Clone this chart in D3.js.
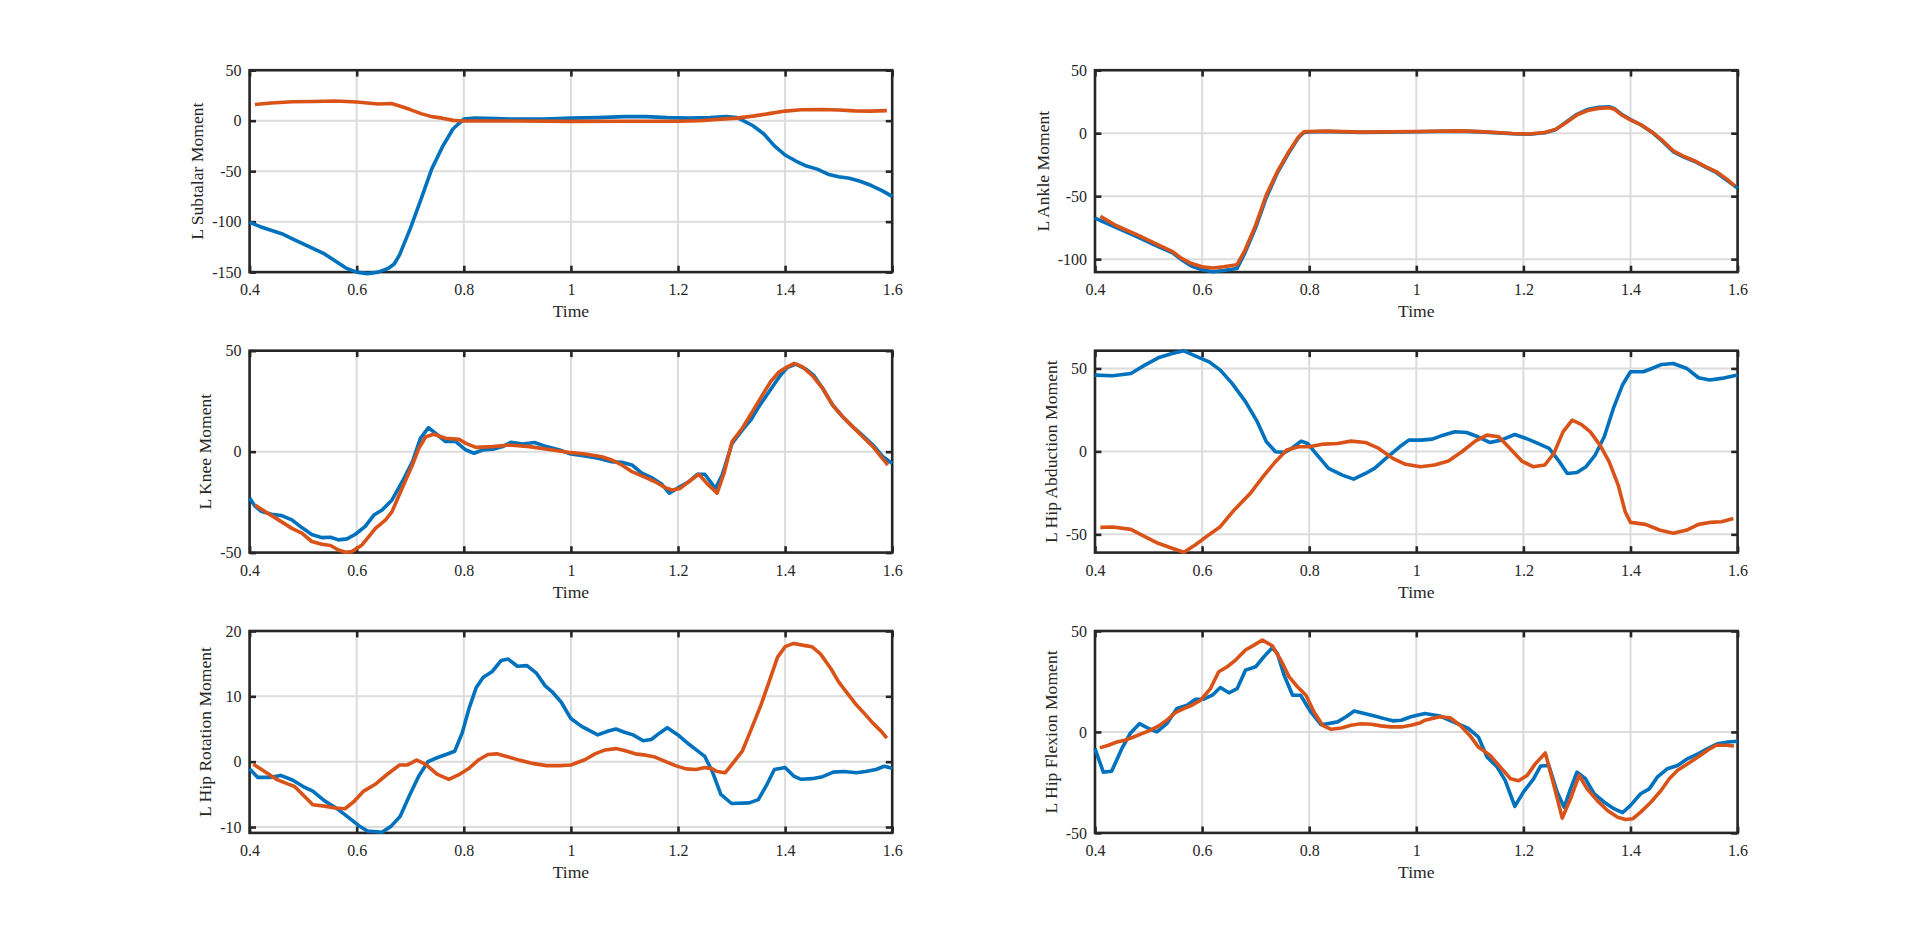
<!DOCTYPE html>
<html>
<head>
<meta charset="utf-8">
<script src="https://cdn.jsdelivr.net/npm/d3@7"></script>
<style>
  html, body { margin: 0; padding: 0; background: #fff; }
  svg { display: block; }
</style>
</head>
<body>
<svg id="chart" width="1920" height="936"></svg>
<script>
// ---------------- DATA ----------------
const xTicks = [0.4, 0.6, 0.8, 1, 1.2, 1.4, 1.6];
const xLabel = "Time";

const subtalarLabel = "L Subtalar Moment";
const subtalarDomain = [-150, 50];
const subtalarTicks = [-150, -100, -50, 0, 50];
const subtalarBlue = [[0.40,-100.7],[0.42,-105],[0.44,-108.5],[0.46,-112],[0.48,-117],[0.50,-122],[0.52,-127],[0.54,-132],[0.56,-139],[0.58,-146],[0.60,-150],[0.62,-151.5],[0.64,-150],[0.66,-146],[0.67,-142],[0.68,-133],[0.70,-107],[0.72,-78],[0.74,-48],[0.76,-26],[0.78,-8],[0.80,1.5],[0.82,2.5],[0.86,2],[0.90,1.5],[0.95,1.5],[1.00,2.5],[1.05,3],[1.10,4],[1.14,4],[1.18,3],[1.22,2.5],[1.26,3],[1.29,4],[1.31,3],[1.32,0.5],[1.34,-5],[1.36,-13],[1.38,-25],[1.40,-34],[1.42,-40],[1.44,-45],[1.46,-48],[1.48,-53],[1.50,-55.5],[1.52,-57],[1.54,-60],[1.56,-64],[1.58,-69],[1.60,-75]];
const subtalarOrange = [[0.41,16],[0.44,17.5],[0.48,18.7],[0.52,19],[0.56,19.5],[0.60,18.5],[0.62,17.5],[0.64,16.5],[0.665,17],[0.68,14.5],[0.70,11],[0.72,7],[0.74,4],[0.76,2.5],[0.78,0.3],[0.80,-0.3],[0.90,-0.3],[1.0,-0.7],[1.1,-0.5],[1.2,-0.5],[1.24,0],[1.28,1.5],[1.31,2.5],[1.34,4.5],[1.37,7],[1.40,9.5],[1.43,10.8],[1.47,11],[1.50,10.5],[1.53,9.7],[1.56,9.5],[1.59,10]];

const ankleLabel = "L Ankle Moment";
const ankleDomain = [-110.3, 50];
const ankleTicks = [-100, -50, 0, 50];
const ankleBlue = [[0.40,-67.5],[0.44,-75],[0.48,-82.5],[0.52,-90.5],[0.545,-95],[0.56,-100],[0.58,-105.5],[0.60,-108.5],[0.62,-110],[0.64,-109],[0.665,-107.5],[0.68,-95],[0.70,-75],[0.72,-51],[0.74,-32],[0.76,-17],[0.78,-3.5],[0.79,0.5],[0.80,1],[0.83,1.3],[0.9,0.6],[1.0,1.1],[1.08,1.6],[1.12,1],[1.18,-0.5],[1.21,-0.8],[1.24,0.3],[1.26,2.8],[1.28,8.8],[1.30,15],[1.32,18.8],[1.34,20.5],[1.36,21],[1.37,19.5],[1.385,14.5],[1.40,10.8],[1.42,6.5],[1.44,0.8],[1.46,-6.5],[1.48,-14.8],[1.50,-19],[1.52,-22.5],[1.54,-27],[1.56,-31.2],[1.58,-37.5],[1.60,-43.6]];
const ankleOrange = [[0.41,-66],[0.44,-73.5],[0.48,-81],[0.52,-89],[0.545,-94],[0.56,-99],[0.58,-103.5],[0.60,-106],[0.62,-107],[0.64,-106],[0.665,-104.5],[0.68,-93],[0.70,-73],[0.72,-49],[0.74,-31],[0.76,-16],[0.78,-3],[0.79,1],[0.80,1.3],[0.83,1.6],[0.9,0.8],[1.0,1.3],[1.08,1.8],[1.12,1.2],[1.18,-0.3],[1.21,-0.6],[1.24,0.5],[1.26,3],[1.28,8.5],[1.30,14.5],[1.32,18],[1.34,19.7],[1.36,20.2],[1.37,19],[1.385,14],[1.40,10.5],[1.42,6.5],[1.44,1],[1.46,-6],[1.48,-14],[1.50,-18.5],[1.52,-22],[1.54,-26.5],[1.56,-30.5],[1.58,-36.5],[1.595,-42]];

const kneeLabel = "L Knee Moment";
const kneeDomain = [-50, 50];
const kneeTicks = [-50, 0, 50];
const kneeBlue = [[0.40,-23],[0.41,-27],[0.4225,-29.7],[0.441,-31],[0.46,-31.7],[0.479,-33.8],[0.4975,-37.6],[0.516,-41],[0.535,-42.6],[0.551,-42.4],[0.566,-43.7],[0.582,-43.2],[0.5975,-40.9],[0.616,-37],[0.632,-31.4],[0.6475,-28.9],[0.666,-23.9],[0.685,-14.9],[0.704,-5],[0.719,6.6],[0.734,11.9],[0.7475,9],[0.766,5],[0.785,5],[0.804,0.8],[0.819,-0.8],[0.835,0.8],[0.854,1.2],[0.8725,2.5],[0.888,4.6],[0.91,3.8],[0.932,4.5],[0.954,2.5],[0.979,0.8],[1.0,-1.2],[1.026,-2.1],[1.051,-3.3],[1.076,-5],[1.095,-5.3],[1.114,-6.6],[1.1325,-10.7],[1.151,-12.9],[1.17,-16.2],[1.184,-20.6],[1.201,-17.8],[1.22,-14.9],[1.236,-11.2],[1.25,-11.2],[1.27,-18.2],[1.2825,-11.6],[1.301,4.1],[1.32,10.7],[1.336,15.7],[1.351,22.3],[1.37,29.7],[1.389,37],[1.404,41.6],[1.42,43.4],[1.439,40.9],[1.454,37.6],[1.47,31.4],[1.489,23],[1.5075,17.3],[1.526,12.4],[1.545,7.9],[1.564,3.3],[1.5825,-2.5],[1.60,-5.8]];
const kneeOrange = [[0.41,-26.4],[0.429,-29.7],[0.454,-33.8],[0.479,-38],[0.4975,-40.4],[0.516,-44.5],[0.535,-45.9],[0.551,-46.5],[0.566,-48.7],[0.579,-49.8],[0.591,-49.5],[0.61,-46.2],[0.635,-38],[0.654,-33.8],[0.666,-29.7],[0.685,-18],[0.704,-6.6],[0.716,1.6],[0.729,7.4],[0.744,8.6],[0.766,6.6],[0.791,6.1],[0.804,4.1],[0.8225,2.1],[0.854,2.5],[0.885,3.3],[0.9225,2.5],[0.966,0.8],[1.0,-0.5],[1.026,-1.2],[1.0575,-2.5],[1.076,-4.1],[1.095,-6.6],[1.114,-9.9],[1.139,-12.7],[1.1575,-14.9],[1.176,-17.8],[1.189,-19],[1.204,-18.2],[1.22,-14.9],[1.239,-11.2],[1.254,-15.7],[1.273,-20.6],[1.286,-10.7],[1.301,5],[1.32,11.6],[1.339,19.8],[1.3575,28],[1.373,34.7],[1.389,39.6],[1.404,42],[1.417,43.7],[1.4325,42],[1.451,37.6],[1.47,31.4],[1.489,23],[1.5075,17.3],[1.526,12.4],[1.545,7.4],[1.564,2.5],[1.579,-2.5],[1.592,-6.6]];

const abdLabel = "L Hip Abduction Moment";
const abdDomain = [-61, 60.7];
const abdTicks = [-50, 0, 50];
const abdBlue = [[0.40,46],[0.433,45.6],[0.467,47],[0.493,52],[0.518,56.4],[0.544,59],[0.566,60.6],[0.587,57.6],[0.613,54],[0.634,49],[0.656,41],[0.681,30],[0.703,17.9],[0.72,5.8],[0.737,-0.2],[0.754,-0.6],[0.767,1.8],[0.785,6.2],[0.797,4.8],[0.815,-2.2],[0.836,-10.2],[0.862,-14.3],[0.883,-16.7],[0.905,-13.3],[0.922,-10.2],[0.947,-3.2],[0.969,2.8],[0.986,6.8],[1.008,6.8],[1.03,7.4],[1.05,9.8],[1.072,11.8],[1.094,11.4],[1.115,8.8],[1.137,5.4],[1.158,6.8],[1.184,10.2],[1.205,7.8],[1.227,4.8],[1.248,1.8],[1.265,-5.2],[1.282,-13.3],[1.30,-12.7],[1.317,-9.2],[1.334,-2.2],[1.351,8.8],[1.368,25.9],[1.385,40],[1.40,48],[1.424,48],[1.44,50],[1.458,52.4],[1.48,53],[1.505,50],[1.527,44.4],[1.548,43],[1.57,44],[1.60,46]];
const abdOrange = [[0.41,-45.8],[0.433,-45.6],[0.467,-47],[0.493,-51.4],[0.518,-55.4],[0.544,-58.4],[0.566,-60.8],[0.587,-56.4],[0.608,-51.4],[0.634,-45.4],[0.66,-35.3],[0.69,-25.3],[0.716,-14.3],[0.737,-6.2],[0.758,0.8],[0.78,2.8],[0.80,2.8],[0.827,4.4],[0.853,4.8],[0.878,6.2],[0.905,5.4],[0.93,1.8],[0.956,-4.2],[0.98,-7.8],[1.008,-9.2],[1.034,-8.2],[1.06,-5.8],[1.085,-0.2],[1.11,6.2],[1.132,9.8],[1.154,8.8],[1.175,1.8],[1.197,-5.8],[1.218,-9.2],[1.24,-8.2],[1.257,-1.2],[1.274,11.8],[1.291,18.9],[1.308,16.3],[1.325,11.8],[1.343,3.8],[1.36,-6.2],[1.377,-20.3],[1.39,-36.3],[1.40,-42.8],[1.428,-44],[1.454,-47.4],[1.48,-49.4],[1.505,-47.4],[1.527,-44],[1.548,-42.8],[1.57,-42.4],[1.592,-40.4]];

const rotLabel = "L Hip Rotation Moment";
const rotDomain = [-10.9, 20];
const rotTicks = [-10, 0, 10, 20];
const rotBlue = [[0.40,-1.1],[0.415,-2.4],[0.44,-2.4],[0.458,-2.1],[0.48,-2.8],[0.50,-3.8],[0.518,-4.5],[0.54,-6],[0.56,-7],[0.578,-8.1],[0.604,-9.8],[0.62,-10.6],[0.647,-10.8],[0.664,-9.9],[0.681,-8.4],[0.699,-5.1],[0.716,-2.2],[0.733,0],[0.75,0.6],[0.767,1.1],[0.783,1.6],[0.797,4.4],[0.81,8.2],[0.823,11.3],[0.836,12.9],[0.853,13.8],[0.87,15.5],[0.883,15.7],[0.90,14.6],[0.918,14.7],[0.935,13.6],[0.952,11.6],[0.965,10.7],[0.982,9.1],[1.0,6.6],[1.02,5.4],[1.05,4.1],[1.07,4.7],[1.084,5],[1.10,4.5],[1.116,4.1],[1.135,3.2],[1.15,3.4],[1.166,4.4],[1.18,5.2],[1.20,4.1],[1.22,2.7],[1.236,1.7],[1.25,0.8],[1.264,-1.5],[1.28,-5],[1.30,-6.4],[1.333,-6.3],[1.35,-5.8],[1.366,-3.5],[1.38,-1.2],[1.40,-0.9],[1.416,-2.2],[1.43,-2.7],[1.45,-2.6],[1.47,-2.3],[1.49,-1.6],[1.51,-1.5],[1.533,-1.7],[1.55,-1.5],[1.57,-1.2],[1.585,-0.7],[1.60,-1.0]];
const rotOrange = [[0.407,-0.4],[0.428,-1.5],[0.45,-2.7],[0.471,-3.4],[0.484,-3.8],[0.50,-5.1],[0.518,-6.6],[0.54,-6.8],[0.56,-7.1],[0.578,-7.2],[0.595,-6.1],[0.613,-4.5],[0.634,-3.5],[0.656,-2],[0.68,-0.5],[0.695,-0.5],[0.712,0.25],[0.729,-0.4],[0.75,-1.9],[0.772,-2.7],[0.793,-1.9],[0.81,-1],[0.828,0.3],[0.845,1.1],[0.862,1.2],[0.88,0.8],[0.905,0.2],[0.931,-0.3],[0.955,-0.6],[0.98,-0.6],[1.0,-0.5],[1.026,0.3],[1.045,1.2],[1.064,1.8],[1.084,2],[1.10,1.7],[1.12,1.2],[1.14,1.0],[1.157,0.7],[1.176,0.05],[1.195,-0.6],[1.215,-1.1],[1.234,-1.2],[1.25,-0.9],[1.264,-1.1],[1.273,-1.5],[1.288,-1.7],[1.30,-0.5],[1.32,1.6],[1.335,4.6],[1.355,8.7],[1.37,12.2],[1.386,16],[1.40,17.6],[1.416,18.1],[1.435,17.8],[1.45,17.6],[1.466,16.5],[1.485,14.3],[1.50,12.2],[1.516,10.5],[1.533,8.7],[1.55,7.2],[1.564,5.9],[1.58,4.6],[1.59,3.6]];

const flexLabel = "L Hip Flexion Moment";
const flexDomain = [-50, 50];
const flexTicks = [-50, 0, 50];
const flexBlue = [[0.40,-8.3],[0.4156,-19.9],[0.431,-19.5],[0.45,-8.3],[0.4656,-0.8],[0.483,4.1],[0.50,1.7],[0.5156,0],[0.534,4.1],[0.553,11.6],[0.572,13.2],[0.5875,16.2],[0.603,16.2],[0.619,18.2],[0.634,22],[0.65,19.4],[0.6656,21.5],[0.681,30.6],[0.70,32.3],[0.7156,37.3],[0.731,41.7],[0.7406,38.9],[0.753,28.2],[0.769,18.2],[0.784,18.2],[0.803,9.9],[0.822,3.6],[0.834,4.1],[0.853,5],[0.869,7.5],[0.884,10.4],[0.903,9.1],[0.922,7.9],[0.94,6.6],[0.956,5.5],[0.972,5.8],[0.99,7.5],[1.008,8.6],[1.016,9.1],[1.044,7.9],[1.069,5],[1.0975,1.7],[1.116,-2.5],[1.132,-12.4],[1.151,-17.4],[1.166,-24],[1.184,-36.9],[1.2,-29.8],[1.219,-23.2],[1.232,-16.9],[1.2475,-16.6],[1.263,-29.8],[1.276,-37.3],[1.288,-28.2],[1.30,-19.9],[1.316,-23.2],[1.332,-30.6],[1.351,-34.8],[1.369,-38],[1.385,-40],[1.40,-36.4],[1.419,-30.6],[1.435,-28.2],[1.45,-22.4],[1.469,-18.2],[1.488,-16.6],[1.507,-13.2],[1.526,-10.8],[1.544,-8.3],[1.563,-5.8],[1.582,-5],[1.60,-4.6]];
const flexOrange = [[0.409,-7.9],[0.425,-6.6],[0.441,-5],[0.456,-4.1],[0.472,-2.5],[0.4875,-0.8],[0.503,0.8],[0.519,3],[0.534,5.8],[0.55,9.6],[0.5656,11.6],[0.581,13.2],[0.597,15.7],[0.6156,21.5],[0.631,29.8],[0.647,32.3],[0.6625,35.6],[0.681,40.6],[0.697,43],[0.7125,45.5],[0.731,42.7],[0.747,35.6],[0.7625,27.3],[0.778,22.4],[0.794,18.2],[0.809,9.9],[0.825,3.3],[0.841,1.3],[0.86,2],[0.878,3.3],[0.897,4.1],[0.916,3.8],[0.934,3],[0.953,2.5],[0.972,2.5],[0.99,3.3],[1.008,4.6],[1.016,5.8],[1.044,7.5],[1.063,7],[1.082,3.3],[1.10,-1.7],[1.116,-7.5],[1.138,-11.6],[1.157,-17.4],[1.176,-23.2],[1.191,-24.2],[1.207,-21.5],[1.2225,-15.7],[1.241,-10.4],[1.257,-26.5],[1.2725,-42.7],[1.288,-33.1],[1.304,-21.5],[1.319,-28.2],[1.338,-34],[1.357,-38.9],[1.376,-42.2],[1.391,-43.4],[1.404,-43],[1.419,-39.7],[1.438,-34.8],[1.457,-29],[1.4725,-23.2],[1.488,-19],[1.507,-15.7],[1.526,-12.4],[1.544,-9.1],[1.56,-6.6],[1.579,-6.6],[1.593,-7]];

// ---------------- LAYOUT / STYLE ----------------
const colLeft = [249.6, 1095.0];
const rowTop = [70.2, 350.7, 631.0];
const axW = 642.6, axH = 201.9;
const blue = "#0072BD", orange = "#D95319";
const axisColor = "#262626";
const gridColor = "#dcdcdc";
const fontFam = "'Liberation Serif','Times New Roman',Times,serif";
const tickFont = 16, labelFont = 17.6;
const tickLen = 6.4;

const panels = [
  {row:0, col:0, label:subtalarLabel, domain:subtalarDomain, ticks:subtalarTicks, blue:subtalarBlue, orange:subtalarOrange},
  {row:0, col:1, label:ankleLabel, domain:ankleDomain, ticks:ankleTicks, blue:ankleBlue, orange:ankleOrange},
  {row:1, col:0, label:kneeLabel, domain:kneeDomain, ticks:kneeTicks, blue:kneeBlue, orange:kneeOrange},
  {row:1, col:1, label:abdLabel, domain:abdDomain, ticks:abdTicks, blue:abdBlue, orange:abdOrange},
  {row:2, col:0, label:rotLabel, domain:rotDomain, ticks:rotTicks, blue:rotBlue, orange:rotOrange},
  {row:2, col:1, label:flexLabel, domain:flexDomain, ticks:flexTicks, blue:flexBlue, orange:flexOrange}
];

const svg = d3.select("#chart");
svg.append("rect").attr("width",1920).attr("height",936).attr("fill","#fff");

panels.forEach(p => {
  const x0 = colLeft[p.col], y0 = rowTop[p.row];
  const g = svg.append("g").attr("transform", `translate(${x0},${y0})`);
  const x = d3.scaleLinear().domain([0.4, 1.6]).range([0, axW]);
  const y = d3.scaleLinear().domain(p.domain).range([axH, 0]);

  // grid
  const grid = g.append("g");
  grid.selectAll("line.gx").data(xTicks).join("line")
    .attr("x1", d => x(d)).attr("x2", d => x(d)).attr("y1", 0).attr("y2", axH)
    .attr("stroke", gridColor).attr("stroke-width", 2);
  grid.selectAll("line.gy").data(p.ticks).join("line")
    .attr("y1", d => y(d)).attr("y2", d => y(d)).attr("x1", 0).attr("x2", axW)
    .attr("stroke", gridColor).attr("stroke-width", 2);

  // axes (bottom/left with labels, top/right mirrors) - ticks inward
  const xAxisB = d3.axisBottom(x).tickValues(xTicks).tickSize(-tickLen).tickPadding(0).tickFormat(d => String(d));
  const xAxisT = d3.axisTop(x).tickValues(xTicks).tickSize(-tickLen).tickFormat("");
  const yAxisL = d3.axisLeft(y).tickValues(p.ticks).tickSize(-tickLen).tickPadding(0).tickFormat(d => String(d));
  const yAxisR = d3.axisRight(y).tickValues(p.ticks).tickSize(-tickLen).tickFormat("");

  const gB = g.append("g").attr("transform", `translate(0,${axH})`).call(xAxisB);
  const gT = g.append("g").call(xAxisT);
  const gL = g.append("g").call(yAxisL);
  const gR = g.append("g").attr("transform", `translate(${axW},0)`).call(yAxisR);
  [gB, gT, gL, gR].forEach(a => {
    a.select(".domain").remove();
    a.selectAll(".tick line").attr("stroke", axisColor).attr("stroke-width", 2.6);
  });
  gB.selectAll(".tick text")
    .attr("y", 23).attr("dy", null)
    .attr("fill", axisColor).style("font-family", fontFam).style("font-size", tickFont + "px");
  gL.selectAll(".tick text")
    .attr("x", -8).attr("dy", "0.32em")
    .attr("fill", axisColor).style("font-family", fontFam).style("font-size", tickFont + "px");

  // box
  g.append("rect").attr("x", 0).attr("y", 0).attr("width", axW).attr("height", axH)
    .attr("fill", "none").attr("stroke", axisColor).attr("stroke-width", 2.6);

  // data lines
  const line = d3.line().x(d => x(d[0])).y(d => y(d[1]));
  g.append("path").datum(p.blue).attr("d", line)
    .attr("fill", "none").attr("stroke", blue).attr("stroke-width", 3.6)
    .attr("stroke-linejoin", "round");
  g.append("path").datum(p.orange).attr("d", line)
    .attr("fill", "none").attr("stroke", orange).attr("stroke-width", 3.6)
    .attr("stroke-linejoin", "round");

  // x label
  g.append("text").attr("x", axW / 2).attr("y", axH + 45)
    .attr("text-anchor", "middle").attr("fill", axisColor)
    .style("font-family", fontFam).style("font-size", labelFont + "px")
    .text(xLabel);

  // y label placed left of widest tick label
  let maxW = 0;
  gL.selectAll(".tick text").each(function() { maxW = Math.max(maxW, this.getComputedTextLength()); });
  const lx = -8 - maxW - 9;
  g.append("text").attr("transform", `translate(${lx},${axH / 2}) rotate(-90)`)
    .attr("text-anchor", "middle").attr("fill", axisColor)
    .style("font-family", fontFam).style("font-size", labelFont + "px")
    .text(p.label);
});
</script>
</body>
</html>
